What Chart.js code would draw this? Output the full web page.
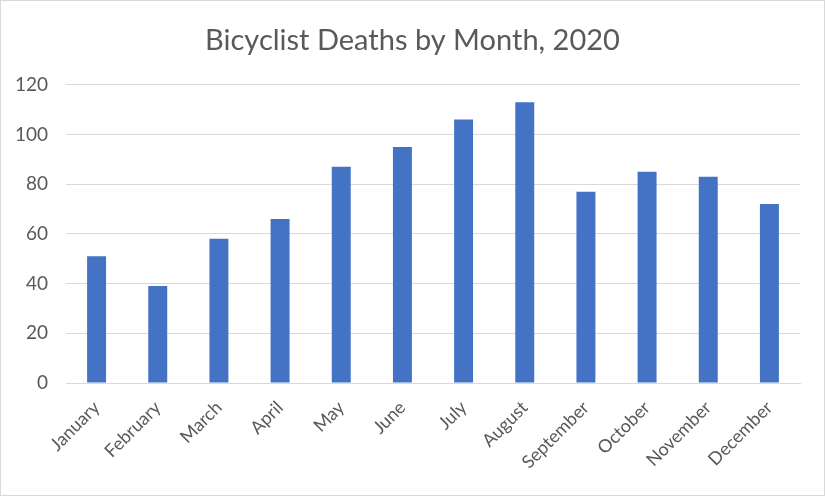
<!DOCTYPE html>
<html>
<head>
<meta charset="utf-8">
<script src="https://cdn.jsdelivr.net/npm/chart.js@4"></script>
<style>
  html, body { margin: 0; padding: 0; background: #fff; }
  #wrap { width: 825px; height: 496px; box-sizing: border-box; border: 1px solid #d9d9d9; }
</style>
</head>
<body>
<div id="wrap"><canvas id="barChart" width="823" height="494"></canvas></div>
<script>
var months = ["January","February","March","April","May","June","July","August","September","October","November","December"];
var deaths = [51, 39, 58, 66, 87, 95, 106, 113, 77, 85, 83, 72];
var yTicks = [0, 20, 40, 60, 80, 100, 120];

const barCtx = document.getElementById('barChart').getContext("2d");

new Chart(barCtx, {
	type: "bar",
	data: {
	  labels: months,
	  datasets: [{
		backgroundColor: "#4472c4",
		data: deaths,
		categoryPercentage: 1,
		barPercentage: 0.31
	  }]
	},
	options: {
	  responsive: false,
	  animation: false,
	  layout: {padding: 0},
	  plugins: {
		legend: {display: false},
		tooltip: {enabled: false},
		title: {
		  display: true,
		  text: "Bicyclist Deaths by Month, 2020",
		  color: "#595959",
		  font: {family: "Lato", size: 29, weight: "normal"},
		  padding: {top: 22, bottom: 27}
		}
	  },
	  scales: {
		x: {
		  // fixed height for the rotated labels, gap on the right kept here so the title stays centred
		  afterFit: function (scale) { scale.height = 112; scale.paddingRight = 24; },
		  grid: {display: false},
		  border: {color: "#d9d9d9"},
		  ticks: {color: "#595959", font: {family: "Lato", size: 18}, maxRotation: 45, minRotation: 45, padding: 6}
		},
		y: {
		  min: 0,
		  max: 120,
		  afterBuildTicks: function (scale) { scale.ticks = yTicks.map(function (v) { return {value: v}; }); },
		  afterFit: function (scale) { scale.width = 65; },
		  grid: {color: "#d9d9d9", drawTicks: false},
		  border: {display: false},
		  ticks: {color: "#595959", font: {family: "Lato", size: 19}, padding: 18}
		}
	  }
	}
});
</script>
</body>
</html>
